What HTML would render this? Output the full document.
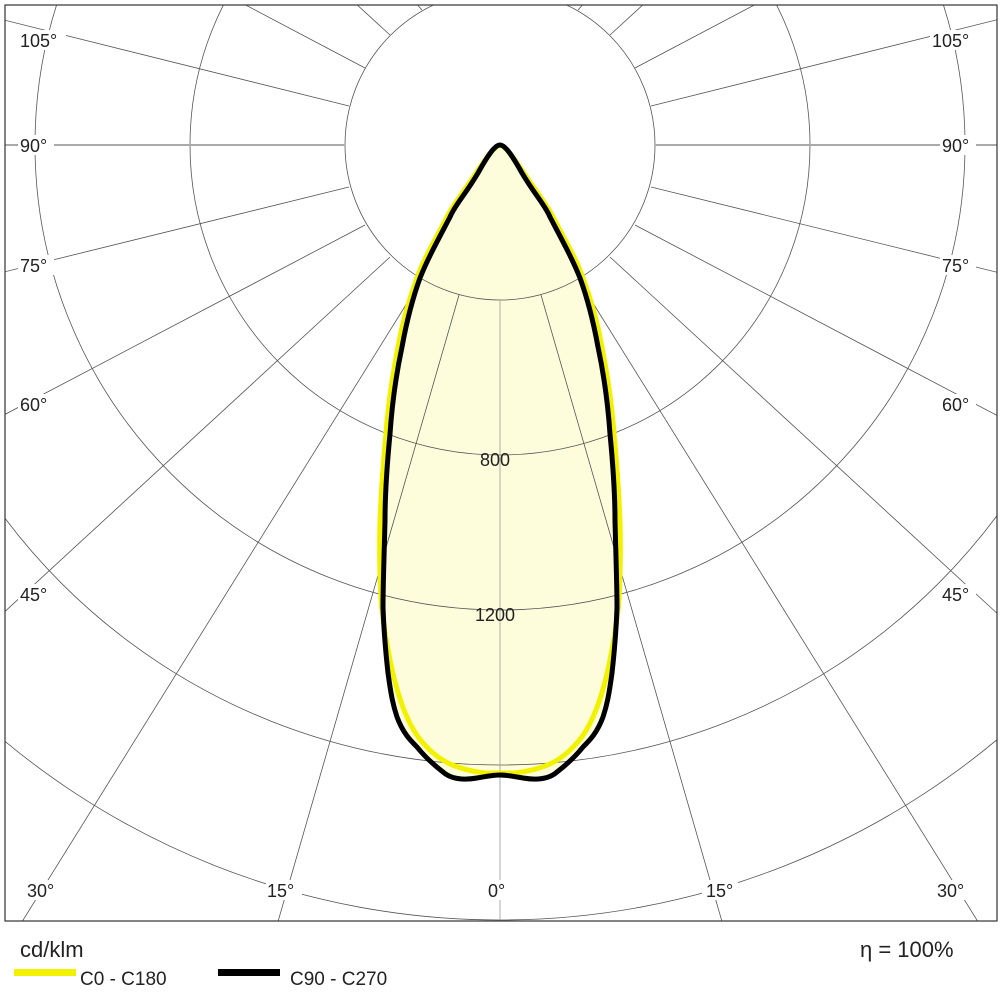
<!DOCTYPE html>
<html><head><meta charset="utf-8"><style>
html,body{margin:0;padding:0;background:#fff;width:1000px;height:1000px;overflow:hidden;}
svg{display:block;}
text{font-family:"Liberation Sans",sans-serif;}
</style></head><body>
<svg width="1000" height="1000" viewBox="0 0 1000 1000" xmlns="http://www.w3.org/2000/svg">
<defs>
<clipPath id="fr"><rect x="5" y="5" width="992" height="916"/></clipPath>
<path id="blk" d="M500,145 C505,145 512,155 522,173 C535,195 545,205 550,217 C562,240 572,258 580,278 C588,300 594,325 598,347 C604,375 608,405 610,434 C613,465 615,495 615,521 C616,560 617,585 617,608 C616,635 614,655 612,673 C609,695 607,705 603,717 C597,733 590,740 583,747 C575,757 566,765 557,772 C548,780 535,780 523,778 C512,776 505,775 500,775 C495,775 488,776 477,778 C465,780 452,780 443,772 C434,765 425,757 417,747 C410,740 403,733 397,717 C393,705 391,695 388,673 C386,655 384,635 383,608 C383,585 384,560 385,521 C385,495 387,465 390,434 C392,405 396,375 402,347 C406,325 412,300 420,278 C428,258 438,240 450,217 C455,205 465,195 478,173 C488,155 495,145 500,145 Z"/>
<path id="yel" d="M500,145 C505,146 512,155 522,170 C535,190 545,202 552,215 C565,240 576,258 583,278 C592,302 598,325 602,347 C608,378 612,405 614,434 C617,465 619,495 620,521 C621,555 620,580 619,600 C617,625 613,645 610,660 C606,680 601,697 596,710 C590,725 583,737 575,745 C566,755 556,762 545,766 C532,771 522,772 515,773 C508,773 503,773 500,773 C497,773 492,773 485,773 C478,772 468,771 455,766 C444,762 434,755 425,745 C417,737 410,725 404,710 C399,697 394,680 390,660 C387,645 383,625 381,600 C380,580 379,555 380,521 C381,495 383,465 386,434 C388,405 392,378 398,347 C402,325 408,302 417,278 C424,258 435,240 448,215 C455,202 465,190 478,170 C488,155 495,146 500,145 Z"/>
</defs>
<rect x="0" y="0" width="1000" height="1000" fill="#fff"/>
<use href="#blk" fill="#fdfddc"/>
<use href="#yel" fill="#fdfddc"/>
<g clip-path="url(#fr)" fill="none" stroke="#555" stroke-width="0.8">
<circle cx="500" cy="145" r="155"/>
<circle cx="500" cy="145" r="310"/>
<circle cx="500" cy="145" r="465"/>
<circle cx="500" cy="145" r="620"/>
<circle cx="500" cy="145" r="775"/>
<circle cx="500" cy="145" r="930"/>
<circle cx="500" cy="145" r="1085"/>
<line x1="500" y1="300" x2="500" y2="925" stroke="#999"/>
<g id="sp">
<line x1="541" y1="295" x2="723" y2="925"/>
<line x1="578" y1="279" x2="980" y2="925"/>
<line x1="610" y1="257" x2="1000" y2="616"/>
<line x1="635" y1="225" x2="1000" y2="417"/>
<line x1="651" y1="187" x2="1000" y2="273"/>
<line x1="655" y1="145" x2="1000" y2="145" stroke="#aaa" stroke-width="2"/>
<line x1="651" y1="106" x2="1000" y2="19"/>
<line x1="635" y1="68" x2="760" y2="2"/>
<line x1="610" y1="35" x2="646" y2="2"/>
<line x1="578" y1="10" x2="585" y2="2"/>
</g>
<use href="#sp" transform="translate(1000,0) scale(-1,1)"/>
</g>
<use href="#yel" fill="none" stroke="#f2f200" stroke-width="5"/>
<use href="#blk" fill="none" stroke="#000" stroke-width="5"/>
<rect x="5" y="5" width="992" height="916" fill="none" stroke="#333" stroke-width="1.2"/>
<g font-size="18" fill="#222">
<g fill="#fff" stroke="none">
<rect x="18" y="30" width="48" height="20"/><rect x="18" y="135" width="36" height="20"/>
<rect x="18" y="255" width="36" height="20"/><rect x="18" y="394" width="36" height="20"/>
<rect x="18" y="584" width="36" height="20"/><rect x="24" y="880" width="36" height="20"/>
<rect x="266" y="880" width="36" height="20"/><rect x="486" y="880" width="28" height="20"/>
<rect x="702" y="880" width="36" height="20"/><rect x="934" y="880" width="36" height="20"/>
<rect x="930" y="30" width="48" height="20"/><rect x="940" y="135" width="36" height="20"/>
<rect x="940" y="255" width="36" height="20"/><rect x="940" y="394" width="36" height="20"/>
<rect x="940" y="584" width="36" height="20"/>
</g>
<text x="20" y="47">105°</text><text x="20" y="152">90°</text><text x="20" y="272">75°</text>
<text x="20" y="411">60°</text><text x="20" y="601">45°</text><text x="27" y="897">30°</text>
<text x="267" y="897">15°</text><text x="488" y="897">0°</text><text x="706" y="897">15°</text>
<text x="937" y="897">30°</text><text x="932" y="47">105°</text><text x="942" y="152">90°</text>
<text x="942" y="272">75°</text><text x="942" y="411">60°</text><text x="942" y="601">45°</text>
<text x="480" y="466">800</text><text x="475" y="621">1200</text>
</g>
<text x="20" y="957" font-size="22" fill="#222">cd/klm</text>
<text x="860" y="957" font-size="22" fill="#222">η = 100%</text>
<rect x="14" y="969" width="62" height="7" fill="#f2f200"/>
<text x="80" y="985" font-size="19" fill="#222">C0 - C180</text>
<rect x="218" y="969" width="62" height="7" fill="#000"/>
<text x="290" y="985" font-size="19" fill="#222">C90 - C270</text>
</svg>
</body></html>
